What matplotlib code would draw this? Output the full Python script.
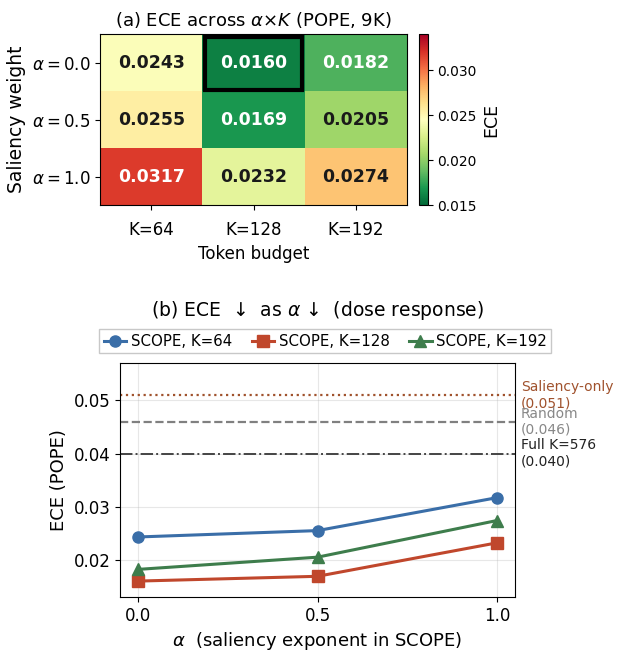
import matplotlib
matplotlib.use("Agg")
import matplotlib.pyplot as plt
import numpy as np
from matplotlib.patches import Rectangle

plt.rcParams["font.family"] = ["DejaVu Sans"]
plt.rcParams["mathtext.fontset"] = "dejavusans"

# data
alphas = [0.0, 0.5, 1.0]
alpha_labels = [r"$\alpha = 0.0$", r"$\alpha = 0.5$", r"$\alpha = 1.0$"]
k_labels = ["K=64", "K=128", "K=192"]
ece_k64 = [0.0243, 0.0255, 0.0317]
ece_k128 = [0.0160, 0.0169, 0.0232]
ece_k192 = [0.0182, 0.0205, 0.0274]
saliency_only = 0.051
random_ece = 0.046
full_k576 = 0.040

grid = np.array([ece_k64, ece_k128, ece_k192]).T  # rows: alpha, cols: K
vmin, vmax = 0.015, 0.034

fig = plt.figure(figsize=(6.26, 6.55), dpi=100)

# (a) heatmap
ax1 = fig.add_axes([0.160, 0.687, 0.490, 0.261])
im = ax1.imshow(grid, cmap="RdYlGn_r", vmin=vmin, vmax=vmax, aspect="auto")
for i in range(grid.shape[0]):
    for j in range(grid.shape[1]):
        v = grid[i, j]
        nv = (v - vmin) / (vmax - vmin)
        col = "white" if (nv < 0.25 or nv > 0.75) else "#1a1a1a"
        ax1.text(j, i, f"{v:.4f}", ha="center", va="center",
                 fontsize=12.5, fontweight="bold", color=col)
best = np.unravel_index(np.argmin(grid), grid.shape)
ax1.add_patch(Rectangle((best[1] - 0.47, best[0] - 0.45), 0.94, 0.93,
                        fill=False, edgecolor="black", lw=3))
ax1.set_xticks(range(3))
ax1.set_xticklabels(k_labels, fontsize=12)
ax1.set_yticks(range(3))
ax1.set_yticklabels(alpha_labels, fontsize=12)
ax1.tick_params(axis="x", pad=8)
ax1.set_xlabel("Token budget", fontsize=12)
ax1.set_ylabel("Saliency weight", fontsize=13.5)
ax1.set_title(r"(a) ECE across $\alpha{\times}K$ (POPE, 9K)", fontsize=13)

cax = fig.add_axes([0.669, 0.687, 0.0144, 0.261])
cb = fig.colorbar(im, cax=cax)
cb.set_ticks([0.015, 0.020, 0.025, 0.030])
cb.ax.tick_params(labelsize=10)
cb.set_label("ECE", fontsize=12.5)

# (b) dose response
ax2 = fig.add_axes([0.1917, 0.0885, 0.631, 0.357])
ax2.plot(alphas, ece_k64, "-o", color="#3a6ea8", lw=2.2, ms=8, label="SCOPE, K=64")
ax2.plot(alphas, ece_k128, "-s", color="#c0472c", lw=2.2, ms=8, label="SCOPE, K=128")
ax2.plot(alphas, ece_k192, "-^", color="#3e7d4c", lw=2.2, ms=8, label="SCOPE, K=192")
ax2.axhline(saliency_only, color="#a0522d", ls=":", lw=1.6)
ax2.axhline(random_ece, color="#808080", ls="--", lw=1.6)
ax2.axhline(full_k576, color="#444444", ls="-.", lw=1.4)
ax2.text(1.015, saliency_only, f"Saliency-only\n({saliency_only:.3f})",
         transform=ax2.get_yaxis_transform(), va="center", fontsize=10, color="#a0522d")
ax2.text(1.015, random_ece, f"Random\n({random_ece:.3f})",
         transform=ax2.get_yaxis_transform(), va="center", fontsize=10, color="#888888")
ax2.text(1.015, full_k576, f"Full K=576\n({full_k576:.3f})",
         transform=ax2.get_yaxis_transform(), va="center", fontsize=10, color="#222222")
ax2.set_xlim(-0.05, 1.05)
ax2.set_ylim(0.013, 0.057)
ax2.set_xticks([0.0, 0.5, 1.0])
ax2.set_yticks([0.02, 0.03, 0.04, 0.05])
ax2.tick_params(labelsize=12)
ax2.grid(True, alpha=0.3)
ax2.set_xlabel(r"$\alpha$  (saliency exponent in SCOPE)", fontsize=13)
ax2.set_ylabel("ECE (POPE)", fontsize=13)
ax2.set_title("(b) ECE  \u2193  as $\\alpha$ \u2193  (dose response)", fontsize=13.5, pad=34)
ax2.legend(loc="lower center", bbox_to_anchor=(0.52, 1.01), ncol=3, fontsize=10.8,
           handlelength=1.5, handletextpad=0.3, columnspacing=1.3, borderpad=0.3,
           fancybox=False, edgecolor="#bbbbbb")

fig.savefig("out.png", dpi=100)
